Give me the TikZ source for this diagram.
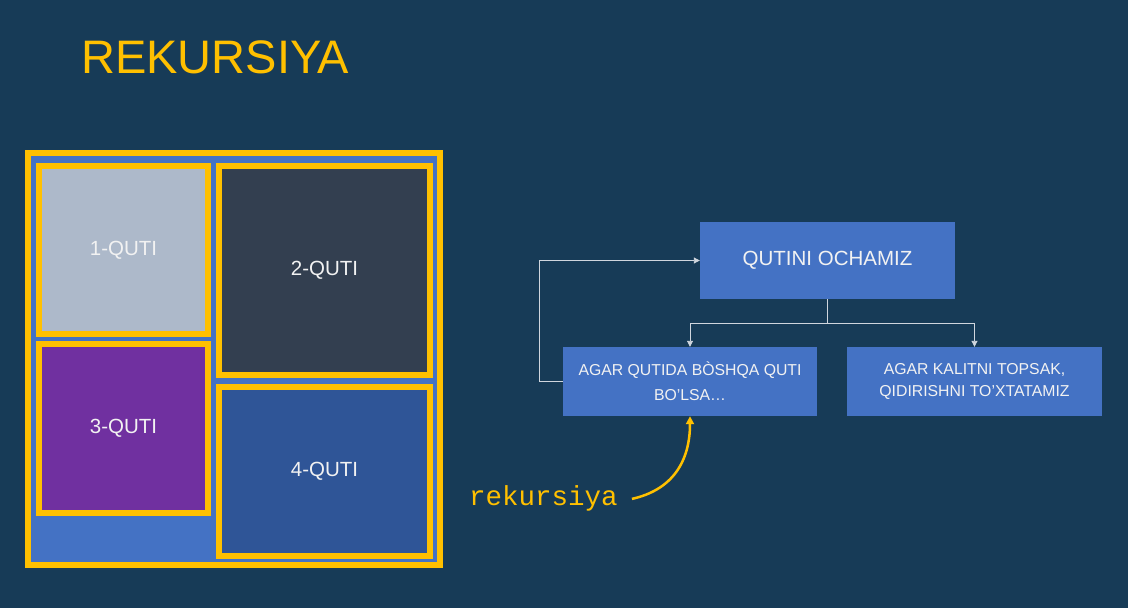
\documentclass[tikz,border=0pt]{standalone}
\usepackage{fontspec}
\setmainfont{Liberation Sans}
\newfontfamily\monof{Liberation Mono}
\usetikzlibrary{arrows.meta}
\definecolor{bg}{HTML}{173B57}
\definecolor{gold}{HTML}{FFC000}
\definecolor{blueA}{HTML}{4472C4}
\definecolor{greyA}{HTML}{ADB9CA}
\definecolor{darkA}{HTML}{333F50}
\definecolor{purpA}{HTML}{7030A0}
\definecolor{blueB}{HTML}{2F5597}
\definecolor{linec}{HTML}{D0D6DE}
\definecolor{txt}{HTML}{F2F2F2}
\tikzset{
  qbox/.style={draw=gold, line width=6pt, inner sep=0pt, text=txt,
    font=\fontsize{20.5}{24}\selectfont},
  fbox/.style={fill=blueA, inner sep=0pt, text=txt, align=center},
  conn/.style={draw=linec, line width=0.9pt, -{Triangle[width=6pt,length=6pt]}},
}
\begin{document}
\begin{tikzpicture}[x=1pt,y=-1pt]
\fill[bg] (0,0) rectangle (1128,608);
\useasboundingbox (0,0) rectangle (1128,608);
\node[anchor=base west, text=gold, font=\fontsize{47}{56}\selectfont, inner sep=0pt] (title) at (81,73) {REKURSIYA};
% boxes
\node[qbox, fill=blueA, minimum width=412pt, minimum height=412pt] (outer) at (234,359) {};
\node[qbox, fill=greyA, minimum width=169pt, minimum height=168pt] (b1) at (123.5,250) {1-QUTI};
\node[qbox, fill=darkA, minimum width=211pt, minimum height=209pt] (b2) at (324.5,270.5) {2-QUTI};
\node[qbox, fill=purpA, minimum width=169pt, minimum height=169pt] (b3) at (123.5,428.5) {3-QUTI};
\node[qbox, fill=blueB, minimum width=211pt, minimum height=169pt] (b4) at (324.5,471.5) {4-QUTI};
% flow
\node[fbox, minimum width=255pt, minimum height=77pt, font=\fontsize{20.5}{24}\selectfont] (top) at (827.5,260.5) {QUTINI OCHAMIZ};
\node[fbox, minimum width=254pt, minimum height=69pt, font=\fontsize{15.8}{25}\selectfont] (left) at (690,381.5) {AGAR QUTIDA BÒSHQA QUTI\\BO’LSA…};
\node[fbox, minimum width=255pt, minimum height=69pt, font=\fontsize{15.8}{22}\selectfont] (right) at (974.5,381.5) {AGAR KALITNI TOPSAK,\\QIDIRISHNI TO’XTATAMIZ};
\draw[conn] (top.south) -- ++(0,24) -| (left.north);
\draw[conn] (top.south) -- ++(0,24) -| (right.north);
\draw[conn] (left.west) -- ++(-23,0) |- (top.west);
% rekursiya
\node[text=gold, font=\monof\fontsize{27.5}{30}\selectfont, inner sep=0pt, anchor=base west] (rek) at (469,505) {rekursiya};
\coordinate (cs) at ([xshift=14pt,yshift=-1pt]rek.east);
\draw[gold, line width=2.5pt, -{Triangle[width=8pt,length=8pt]}] (cs) .. controls (672,490) and (690,462) .. (left.south);
\end{tikzpicture}
\end{document}
